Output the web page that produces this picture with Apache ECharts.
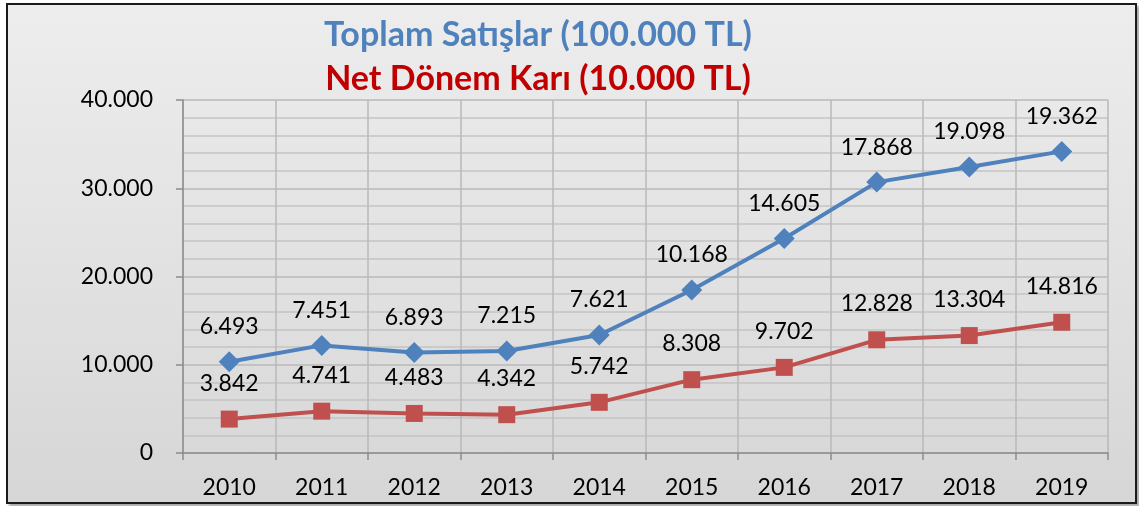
<!DOCTYPE html>
<html>
<head>
<meta charset="utf-8">
<script src="https://cdn.jsdelivr.net/npm/echarts@6/dist/echarts.min.js"></script>
<style>
  html, body { margin: 0; padding: 0; width: 1139px; height: 506px; overflow: hidden; background: #ffffff; }
  #frame { position: absolute; left: 6px; top: 3px; width: 1127px; height: 497px; border: 2px solid #1a1a1a;
    background: linear-gradient(to bottom, #ededed 0%, #e0e0e0 60%, #d6d6d6 100%);
    box-shadow: 3px 3px 3px rgba(0,0,0,0.35); }
  #chart { position: absolute; left: 0; top: 0; width: 1139px; height: 506px; }
</style>
</head>
<body>
<div id="frame"></div>
<div id="chart"></div>
<script>
const years = ['2010','2011','2012','2013','2014','2015','2016','2017','2018','2019'];
const netKar = [3842, 4741, 4483, 4342, 5742, 8308, 9702, 12828, 13304, 14816];
const toplamSatis = [6493, 7451, 6893, 7215, 7621, 10168, 14605, 17868, 19098, 19362];
const titleLine1 = 'Toplam Satışlar (100.000 TL)';
const titleLine2 = 'Net Dönem Karı (10.000 TL)';

function fmt(v) {
  return String(Math.round(v)).replace(/\B(?=(\d{3})+(?!\d))/g, '.');
}

const chart = echarts.init(document.getElementById('chart'), null, { renderer: 'canvas' });
const font = 'Lato, Carlito, "Noto Sans", sans-serif';
chart.setOption({
  backgroundColor: 'transparent',
  animation: false,
  title: [
    { text: titleLine1, left: 533, top: 13, textAlign: 'center',
      textStyle: { color: '#4f81bd', fontSize: 34, fontWeight: 'bold', fontFamily: font } },
    { text: titleLine2, left: 533, top: 57, textAlign: 'center',
      textStyle: { color: '#c00000', fontSize: 34, fontWeight: 'bold', fontFamily: font } }
  ],
  grid: { left: 183, right: 31, top: 100, bottom: 53, containLabel: false },
  xAxis: {
    type: 'category', data: years, boundaryGap: true,
    axisLine: { lineStyle: { color: '#8c8c8c', width: 1.5 } },
    axisTick: { show: true, alignWithLabel: false, length: 7, lineStyle: { color: '#8c8c8c', width: 1.5 } },
    axisLabel: { color: '#000', fontSize: 23, fontFamily: font, margin: 23 },
    splitLine: { show: true, lineStyle: { color: '#b9b9b9', width: 1.5 } }
  },
  yAxis: {
    type: 'value', min: 0, max: 40000, interval: 10000,
    axisLine: { show: true, lineStyle: { color: '#8c8c8c', width: 1.5 } },
    axisTick: { show: true, length: 7, lineStyle: { color: '#8c8c8c', width: 1.5 } },
    axisLabel: { color: '#000', fontSize: 23, fontFamily: font, margin: 30, formatter: v => fmt(v) },
    splitLine: { show: true, lineStyle: { color: '#b9b9b9', width: 1.5 } },
    minorTick: { show: false, splitNumber: 5 },
    minorSplitLine: { show: true, lineStyle: { color: '#c4c4c4', width: 1.5 } }
  },
  series: [
    {
      name: 'Net Dönem Karı', type: 'line', stack: 'total', data: netKar,
      symbol: 'rect', symbolSize: 17,
      lineStyle: { color: '#c0504d', width: 4 },
      itemStyle: { color: '#c0504d' },
      label: { show: true, position: 'top', distance: 16, color: '#000', fontSize: 23, fontFamily: font,
        formatter: p => fmt(p.value) },
      z: 3
    },
    {
      name: 'Toplam Satışlar', type: 'line', stack: 'total', data: toplamSatis,
      symbol: 'diamond', symbolSize: 21,
      lineStyle: { color: '#4f81bd', width: 4 },
      itemStyle: { color: '#4f81bd' },
      label: { show: true, position: 'top', distance: 13, color: '#000', fontSize: 23, fontFamily: font,
        formatter: p => fmt(p.value) },
      z: 4
    }
  ]
});
</script>
</body>
</html>
